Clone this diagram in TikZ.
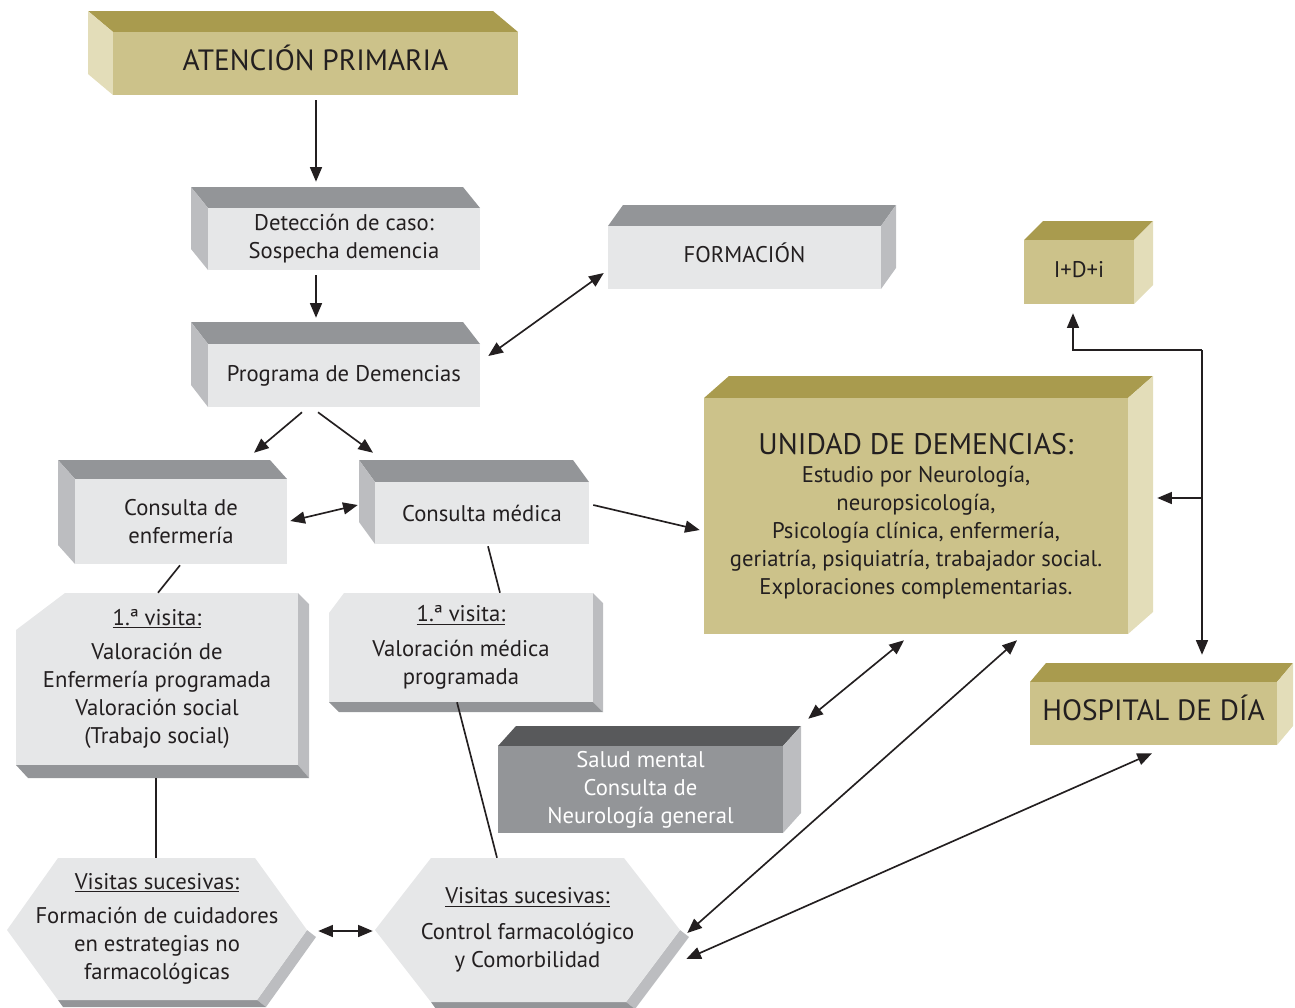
\documentclass[tikz,border=0pt]{standalone}
\usepackage{fontspec}
\setmainfont{PT Sans}
\usetikzlibrary{arrows.meta}

\definecolor{olivetop}{RGB}{169,155,78}
\definecolor{olivefront}{RGB}{204,194,138}
\definecolor{oliveside}{RGB}{227,221,185}
\definecolor{greytop}{RGB}{147,149,152}
\definecolor{greyfront}{RGB}{230,231,232}
\definecolor{greyside}{RGB}{188,189,192}
\definecolor{darktop}{RGB}{88,89,91}
\definecolor{ink}{RGB}{35,31,32}

\tikzset{
  txt/.style={align=center, text=ink, inner sep=0pt, font=\fontsize{17}{21}\selectfont},
  capstxt/.style={txt, text height=12pt, text depth=3.8pt},
  bigtxt/.style={txt, font=\fontsize{22}{26}\selectfont, text height=15.4pt, text depth=5.2pt},
  arr/.style={line width=1.25pt, draw=ink, -{Triangle[length=11pt,width=9pt]}},
  darr/.style={line width=1.25pt, draw=ink, {Triangle[length=11pt,width=9pt]}-{Triangle[length=11pt,width=9pt]}},
  lnk/.style={line width=1.25pt, draw=ink},
}

\begin{document}
\begin{tikzpicture}[x=0.75pt,y=0.75pt,yscale=-1,xscale=1]
\useasboundingbox (0,0) rectangle (1295,1007);

%Shape: Cube ATENCION
\fill [olivetop] (113,32) -- (88,11) -- (493,11) -- (518,32) -- cycle ;
\fill [oliveside] (113,32) -- (88,11) -- (88,74) -- (113,95) -- cycle ;
%Shape: Cube Deteccion
\fill [greytop] (208,208) -- (191,187) -- (463,187) -- (480,208) -- cycle ;
\fill [greyside] (208,208) -- (191,187) -- (191,249) -- (208,270) -- cycle ;
%Shape: Cube Programa
\fill [greytop] (208,344) -- (191,322) -- (463,322) -- (480,344) -- cycle ;
\fill [greyside] (208,344) -- (191,322) -- (191,385) -- (208,407) -- cycle ;
%Shape: Cube Formacion
\fill [greytop] (608,226) -- (623,205) -- (896,205) -- (881,226) -- cycle ;
\fill [greyside] (881,226) -- (896,205) -- (896,268) -- (881,289) -- cycle ;
%Shape: Cube IDi
\fill [olivetop] (1024,240) -- (1043,221) -- (1153,221) -- (1134,240) -- cycle ;
\fill [oliveside] (1134,240) -- (1153,221) -- (1153,285) -- (1134,304) -- cycle ;
%Shape: Cube Unidad
\fill [olivetop] (704,398) -- (729,376) -- (1153,376) -- (1128,398) -- cycle ;
\fill [oliveside] (1128,398) -- (1153,376) -- (1153,612) -- (1128,634) -- cycle ;
%Shape: Cube Hospital
\fill [olivetop] (1030,682) -- (1046,663) -- (1293,663) -- (1277,682) -- cycle ;
\fill [oliveside] (1277,682) -- (1293,663) -- (1293,726) -- (1277,745) -- cycle ;
%Shape: Cube Salud mental
\fill [darktop] (498,746) -- (516,726) -- (801,726) -- (783,746) -- cycle ;
\fill [greyside] (783,746) -- (801,726) -- (801,813) -- (783,833) -- cycle ;
%Shape: Cube Consulta enfermeria
\fill [greytop] (75,479) -- (58,460) -- (270,460) -- (287,479) -- cycle ;
\fill [greyside] (75,479) -- (58,460) -- (58,545) -- (75,564) -- cycle ;
%Shape: Cube Consulta medica
\fill [greytop] (375,482) -- (359,460) -- (573,460) -- (589,482) -- cycle ;
\fill [greyside] (375,482) -- (359,460) -- (359,522) -- (375,544) -- cycle ;

%Shape: Chamfered box 1a visita enfermeria
\fill [greyfront] (16,630) -- (65,593) -- (298,593) -- (298,765) -- (16,765) -- cycle ;
\fill [greyside] (298,593) -- (309,604) -- (309,778) -- (298,765) -- cycle ;
\fill [greytop] (16,765) -- (298,765) -- (309,778) -- (28,778) -- cycle ;
%Shape: Chamfered box 1a visita medica
\fill [greyfront] (329,613) -- (344,593) -- (593,593) -- (593,702) -- (329,702) -- cycle ;
\fill [greyside] (593,593) -- (603,603) -- (603,712) -- (593,702) -- cycle ;
\fill [greytop] (329,702) -- (593,702) -- (603,712) -- (339,712) -- cycle ;

%Shape: Hexagon left
\fill [greyside] (307,930) -- (316,937) -- (266,1007) -- (257,1000) -- cycle ;
\fill [greytop] (58,1000) -- (257,1000) -- (266,1007) -- (63,1007) -- cycle ;
\fill [greyfront] (58,858) -- (255,858) -- (307,930) -- (257,1000) -- (58,1000) -- (7,930) -- cycle ;
%Shape: Hexagon right
\fill [greyside] (680,930) -- (689,937) -- (635,1009) -- (626,1002) -- cycle ;
\fill [greytop] (431,1002) -- (626,1002) -- (635,1009) -- (436,1009) -- cycle ;
\fill [greyfront] (431,858) -- (624,858) -- (680,930) -- (626,1002) -- (431,1002) -- (375,930) -- cycle ;

% Text Node
\draw (315.5,63.5) node [bigtxt, fill=olivefront, minimum width=303.75pt, minimum height=47.25pt] (aten) {ATENCIÓN PRIMARIA};
% Text Node
\draw (344,239) node [txt, fill=greyfront, minimum width=204pt, minimum height=46.5pt] (dete) {Detección de caso:\\Sospecha demencia};
% Text Node
\draw (344,375.5) node [txt, fill=greyfront, minimum width=204pt, minimum height=47.25pt] (prog) {Programa de Demencias};
% Text Node
\draw (744.5,257.5) node [capstxt, fill=greyfront, minimum width=204.75pt, minimum height=47.25pt] (form) {FORMACIÓN};
% Text Node
\draw (1079,272) node [capstxt, fill=olivefront, minimum width=82.5pt, minimum height=48pt] (idi) {I+D+i};
% Text Node
\draw (916,516) node [txt, fill=olivefront, minimum width=318pt, minimum height=177pt] (unid) {{\fontsize{22.3}{27}\selectfont UNIDAD DE DEMENCIAS:}\\Estudio por Neurología,\\neuropsicología,\\Psicología clínica, enfermería,\\geriatría, psiquiatría, trabajador social.\\Exploraciones complementarias.};
% Text Node
\draw (1153.5,713.5) node [bigtxt, fill=olivefront, minimum width=185.25pt, minimum height=47.25pt] (hosp) {HOSPITAL DE DÍA};
% Text Node
\draw (640.5,789.5) node [txt, text=white, fill=greytop, minimum width=213.75pt, minimum height=65.25pt] (salud) {Salud mental\\Consulta de\\Neurología general};
% Text Node
\draw (181,521.5) node [txt, fill=greyfront, minimum width=159pt, minimum height=63.75pt] (cenf) {Consulta de\\enfermería};
% Text Node
\draw (482,513) node [txt, fill=greyfront, minimum width=160.5pt, minimum height=46.5pt] (cmed) {Consulta médica};
% Text Node
\draw (157,679) node [txt, minimum width=211.5pt, minimum height=129pt] (venf) {\underline{1.ª visita:}\\[5pt]Valoración de\\Enfermería programada\\Valoración social\\(Trabajo social)};
% Text Node
\draw (461,647.5) node [txt, minimum width=198pt, minimum height=81.75pt] (vmed) {\underline{1.ª visita:}\\[5pt]Valoración médica\\programada};
% Text Node
\draw (157,929) node [txt, minimum width=225pt, minimum height=106.5pt] (hexl) {\underline{Visitas sucesivas:}\\[5pt]Formación de cuidadores\\en estrategias no\\farmacológicas};
% Text Node
\draw (527.5,930) node [txt, minimum width=228.75pt, minimum height=108pt] (hexr) {\underline{Visitas sucesivas:}\\[6pt]Control farmacológico\\y Comorbilidad};

%Straight Lines
\draw [arr] ([shift={(0.5,5)}]aten.south) -- ([shift={(-28,-26)}]dete.north) ;
\draw [arr] ([shift={(-28,5)}]dete.south) -- ([shift={(-28,-26)}]prog.north) ;
\draw [darr] ([shift={(8,-19.5)}]prog.east) -- ([shift={(-4,15.5)}]form.west) ;
\draw [arr] ([shift={(-42,5)}]prog.south) -- ([shift={(73,-26)}]cenf.north) ;
\draw [arr] ([shift={(-26,5)}]prog.south) -- ([shift={(-109,-29)}]cmed.north) ;
\draw [darr] ([shift={(3,-0.5)}]cenf.east) -- ([shift={(-17,-8)}]cmed.west) ;
\draw [arr] ([shift={(4,-8)}]cmed.east) -- ([shift={(-4,14)}]unid.west) ;
\draw [lnk] ([shift={(-1,1)}]cenf.south) -- ([shift={(1,0)}]venf.north) ;
\draw [lnk] ([shift={(6,2)}]cmed.south) -- ([shift={(39,0)}]vmed.north) ;
\draw [lnk] ([shift={(-1,13)}]venf.south) -- ([shift={(-1,0)}]hexl.north) ;
\draw [lnk] ([shift={(-4,0)}]vmed.south) -- ([shift={(-30.5,0)}]hexr.north) ;
\draw [darr] ([shift={(11,2)}]hexl.east) -- ([shift={(-2,1)}]hexr.west) ;
\draw [darr] ([shift={(-12,6)}]unid.south) -- ([shift={(25,-27)}]salud.north east) ;
\draw [darr] ([shift={(101,6)}]unid.south) -- ([shift={(7,3)}]hexr.east) ;
\draw [darr] ([shift={(-1.5,8)}]hosp.south) -- ([shift={(6,29)}]hexr.east) ;
%Right tree
\coordinate (junc) at (1202,350) ;
\coordinate (branch) at (1202,498) ;
\draw [arr] (junc) -| ([shift={(-6,9)}]idi.south) ;
\draw [arr] (junc) -- ([shift={(48.5,-27)}]hosp.north) ;
\draw [arr] (branch) -- ([shift={(29,-18)}]unid.east) ;

\end{tikzpicture}
\end{document}
